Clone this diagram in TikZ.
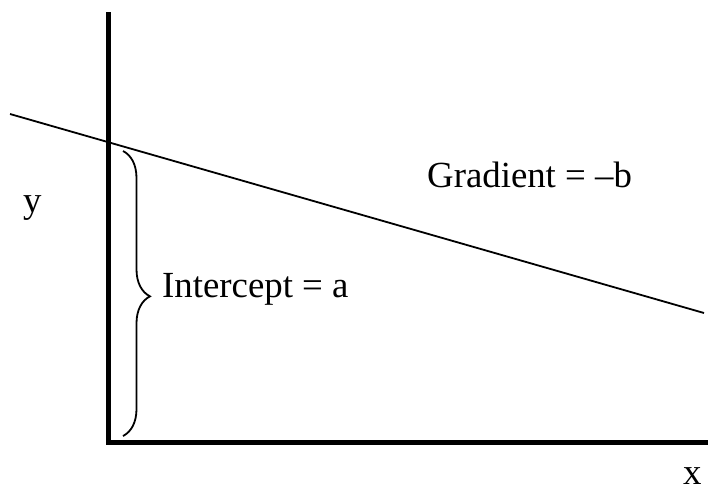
\documentclass[tikz,border=0pt]{standalone}
\usepackage{fontspec}
\setmainfont{Liberation Serif}
\usetikzlibrary{decorations.pathreplacing}
\begin{document}
\begin{tikzpicture}[x=1pt,y=-1pt,
  axis/.style={line width=5pt},
  thin/.style={line width=1.8pt},
  lbl/.style={anchor=base west,inner sep=0pt,font=\fontsize{36.8}{44}\selectfont}]
\useasboundingbox (0,0) rectangle (708,493);
\coordinate (top) at (108,12);
\coordinate (origin) at (108,442);
\coordinate (xend) at (708,442);
\coordinate (lstart) at (10,114);
\coordinate (lend) at (704,313);
\coordinate (btop) at (123,151);
\coordinate (bbot) at (123,436);
\draw[axis,line cap=butt] (top) -- (origin.center) -- (xend);
\draw[thin] (lstart) -- (lend);
\draw[thin,decorate,decoration={brace,amplitude=27pt,aspect=0.51}] (btop) -- (bbot);
\node[lbl] (ylab) at (23,212) {y};
\node[lbl] (xlab) at (683,484) {x};
\node[lbl] (icpt) at (162,297) {Intercept = a};
\node[lbl] (grad) at (427,187) {Gradient = –b};
\end{tikzpicture}
\end{document}
